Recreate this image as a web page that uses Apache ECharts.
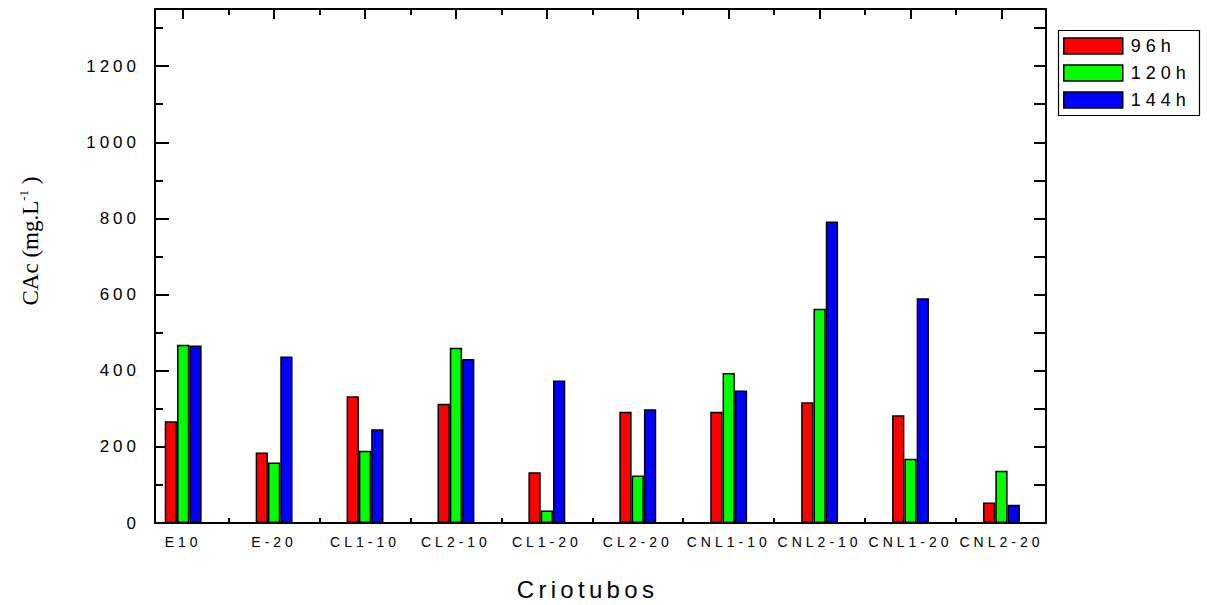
<!DOCTYPE html>
<html>
<head>
<meta charset="utf-8">
<script src="https://cdn.jsdelivr.net/npm/echarts@6/dist/echarts.min.js"></script>
<style>
  html, body { margin: 0; padding: 0; background: #fff; }
  #chart { width: 1207px; height: 605px; }
  /* spaced-out sans lettering, keyed on the font size of each text group */
  #chart text[style*="17px"] { letter-spacing: 4px; }
  #chart text[style*="14px"] { letter-spacing: 4px; }
  #chart text[style*="18px"] { letter-spacing: 5px; }
  #chart text[style*="24px"] { letter-spacing: 4.3px; }
</style>
</head>
<body>
<div id="chart"></div>
<script>
// Sample groups on the horizontal axis
const categories = ['E10', 'E-20', 'CL1-10', 'CL2-10', 'CL1-20', 'CL2-20', 'CNL1-10', 'CNL2-10', 'CNL1-20', 'CNL2-20'];
// Incubation times (one bar series each)
const seriesNames = ['96h', '120h', '144h'];
// CAc (mg.L-1) per group
const values96  = [267, 185, 333, 313, 133, 292, 292, 317, 283, 54];
const values120 = [468, 159, 190, 460, 33, 125, 394, 563, 169, 137];
const values144 = [466, 437, 246, 431, 374, 299, 348, 792, 590, 48];
const seriesValues = [values96, values120, values144];
const seriesColors = ['#ff0000', '#00ff00', '#0000ff'];

// Axis ticks
const yMajorTicks = [0, 200, 400, 600, 800, 1000, 1200];
const yMinorTicks = [100, 300, 500, 700, 900, 1100, 1300];
const yRightTicks = [0, 100, 200, 300, 400, 500, 600, 700, 800, 900, 1000, 1100, 1200, 1300];
const xMajorTicks = [0, 1, 2, 3, 4, 5, 6, 7, 8, 9];
const xMinorTicks = [0.5, 1.5, 2.5, 3.5, 4.5, 5.5, 6.5, 7.5, 8.5];

const SANS = '"Liberation Sans", Arial, sans-serif';
const SERIF = '"Liberation Serif", "Times New Roman", serif';
const X_MIN = -0.31, X_MAX = 9.49, Y_MIN = 0, Y_MAX = 1350;
const black = '#000';

function xAxisDef(position, ticks, len, showLine, showLabel) {
  return {
    type: 'value', position: position, min: X_MIN, max: X_MAX,
    axisLine: { show: showLine, onZero: false, lineStyle: { color: black, width: 2 } },
    axisTick: { show: true, inside: true, length: len, customValues: ticks, lineStyle: { color: black, width: 2 } },
    axisLabel: showLabel ? {
      show: true, customValues: ticks, margin: 12,
      color: black, fontSize: 14, fontFamily: SANS,
      formatter: v => categories[Math.round(v)]
    } : { show: false },
    splitLine: { show: false }
  };
}

function yAxisDef(position, ticks, len, showLine, showLabel) {
  return {
    type: 'value', position: position, min: Y_MIN, max: Y_MAX,
    axisLine: { show: showLine, onZero: false, lineStyle: { color: black, width: 2 } },
    axisTick: { show: true, inside: true, length: len, customValues: ticks, lineStyle: { color: black, width: 2 } },
    axisLabel: showLabel ? {
      show: true, customValues: ticks, margin: 15,
      color: black, fontSize: 17, fontFamily: SANS,
      formatter: v => String(v)
    } : { show: false },
    splitLine: { show: false }
  };
}

const chart = echarts.init(document.getElementById('chart'), null, { renderer: 'svg' });

chart.setOption({
  animation: false,
  backgroundColor: '#fff',
  grid: { left: 155, top: 9, right: 161, bottom: 82, containLabel: false, outerBoundsMode: 'none' },
  xAxis: [
    xAxisDef('bottom', xMajorTicks, 10, true, true),
    xAxisDef('bottom', xMinorTicks, 5, false, false),
    xAxisDef('top', xMajorTicks, 10, true, false),
    xAxisDef('top', xMinorTicks, 6, false, false)
  ],
  yAxis: [
    yAxisDef('left', yMajorTicks, 14, true, true),
    yAxisDef('left', yMinorTicks, 8, false, false),
    yAxisDef('right', yRightTicks, 12, true, false)
  ],
  legend: {
    orient: 'vertical', left: 1063, top: 37, padding: 0,
    icon: 'rect', itemWidth: 59, itemHeight: 16, itemGap: 9,
    itemStyle: { borderColor: black, borderWidth: 1.5 },
    textStyle: { color: black, fontSize: 18, fontFamily: SANS, lineHeight: 16, padding: [0, 0, 0, 3] },
    data: seriesNames
  },
  graphic: [
    {
      type: 'rect', left: 1056, top: 28, z: 100,
      shape: { width: 141, height: 85 },
      style: { fill: 'none', stroke: black, lineWidth: 1.2 }
    },
    {
      type: 'text', x: 587.5, y: 589,
      style: { text: 'Criotubos', fill: black, fontSize: 24, fontFamily: SANS, align: 'center', verticalAlign: 'middle' }
    },
    {
      type: 'text', x: 30, y: 241, rotation: Math.PI / 2,
      style: {
        text: '{a|CAc (mg.L}{s|-1}{a| )}',
        align: 'center', verticalAlign: 'middle',
        rich: {
          a: { fill: black, fontSize: 23, fontFamily: SERIF, lineHeight: 26 },
          s: { fill: black, fontSize: 13, fontFamily: SERIF, verticalAlign: 'top', lineHeight: 13 }
        }
      }
    }
  ],
  series: seriesNames.map((name, s) => ({
    name: name,
    type: 'bar',
    xAxisIndex: 0,
    yAxisIndex: 0,
    barWidth: 12.3,
    barGap: '0%',
    itemStyle: { color: seriesColors[s], borderColor: black, borderWidth: 1.5 },
    data: seriesValues[s].map((v, i) => [i, v])
  }))
});
</script>
</body>
</html>
